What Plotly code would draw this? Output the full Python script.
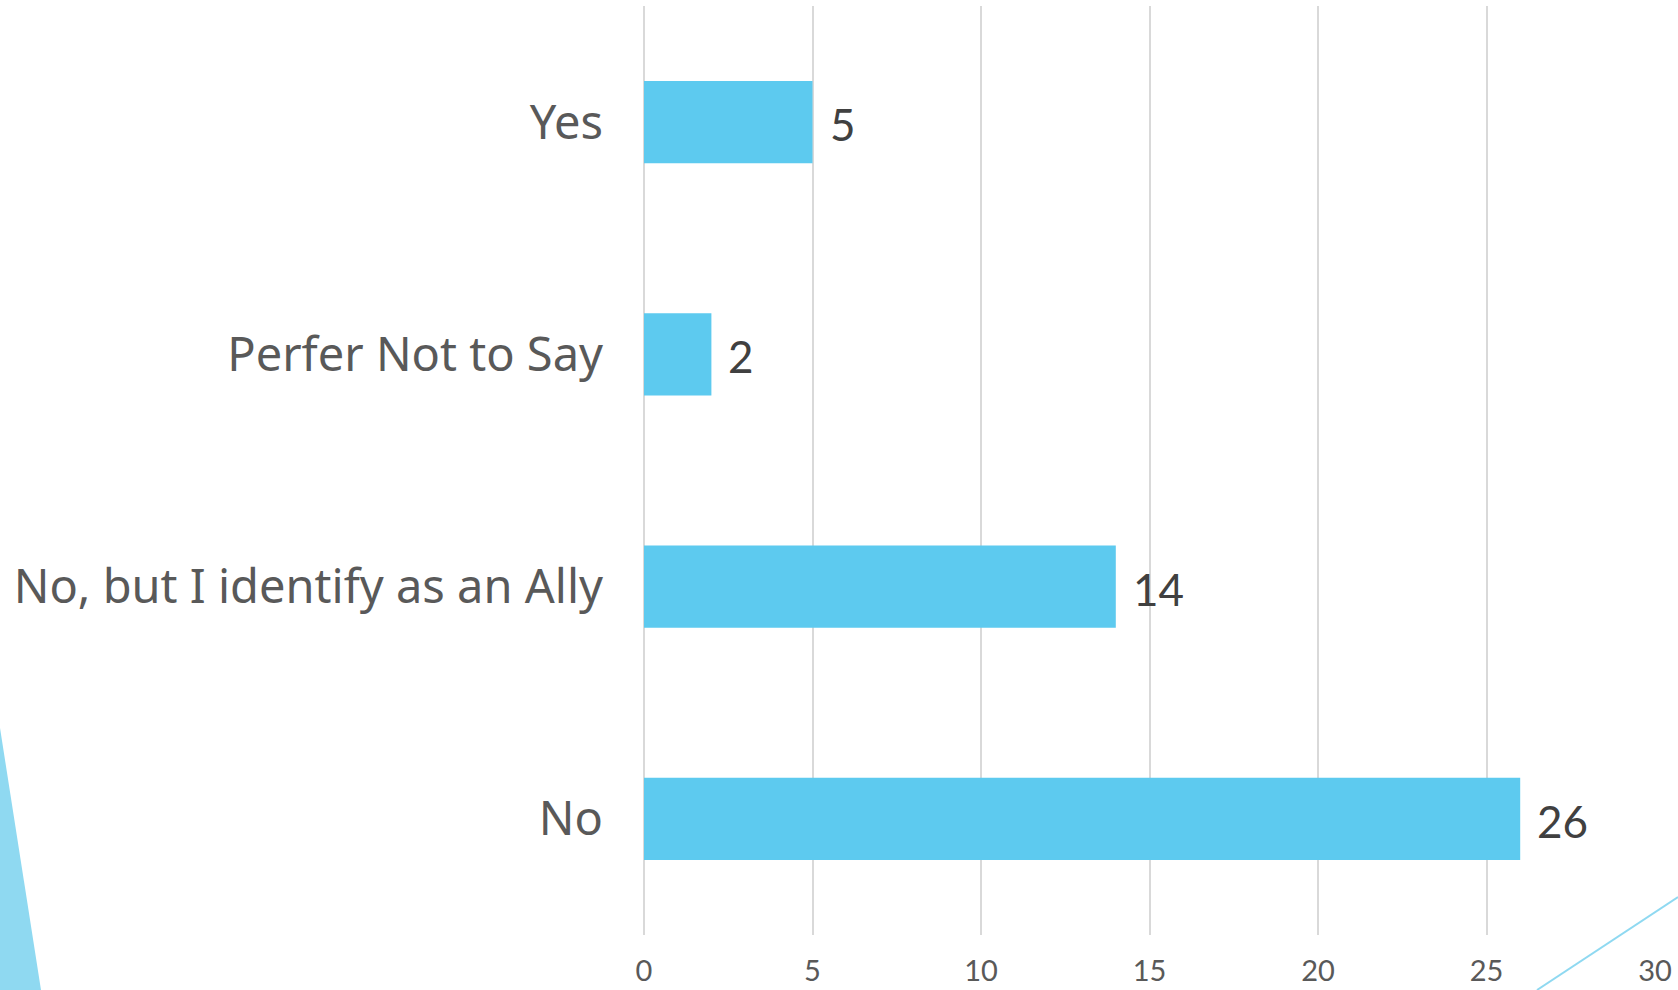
import plotly.graph_objects as go

# Survey responses, listed bottom-to-top as they appear on the axis
categories = ["No", "No, but I identify as an Ally", "Perfer Not to Say", "Yes"]
counts = [26, 14, 2, 5]
x_ticks = [0, 5, 10, 15, 20, 25, 30]

BAR = "#5DCAEF"
ACCENT = "#8FD9F1"
GRID = "#D9D9D9"

W, H = 1678, 990
L, R, T, B = 644, 23, 6, 55
pw, ph = W - L - R, H - T - B


def px(x):
    return (x - L) / pw


def py(y):
    return (H - B - y) / ph


fig = go.Figure(
    go.Bar(
        x=counts,
        y=categories,
        orientation="h",
        marker=dict(color=BAR, line=dict(width=0)),
        width=0.355,
        hoverinfo="skip",
    )
)

# value labels to the right of each bar
for c, v in zip(categories, counts):
    fig.add_annotation(
        x=v, y=c, text=str(v), showarrow=False,
        xanchor="left", yanchor="middle", xshift=15, yshift=-2,
        font=dict(family="Lato, sans-serif", size=44, color="#404040"),
    )

# decorative accents in the lower corners
fig.add_shape(
    type="path", xref="paper", yref="paper",
    path=f"M {px(0)} {py(728)} L {px(41)} {py(990)} L {px(0)} {py(990)} Z",
    fillcolor=ACCENT, line=dict(width=0), layer="below",
)
fig.add_shape(
    type="line", xref="paper", yref="paper",
    x0=px(1537), y0=py(990), x1=px(1678), y1=py(897),
    line=dict(color=ACCENT, width=2),
)

fig.update_layout(
    width=W, height=H,
    margin=dict(l=L, r=R, t=T, b=B, autoexpand=False),
    paper_bgcolor="white", plot_bgcolor="white",
    showlegend=False,
    xaxis=dict(
        range=[0, 30], tickvals=x_ticks, ticktext=[str(t) for t in x_ticks],
        showgrid=True, gridcolor=GRID, gridwidth=2,
        zeroline=True, zerolinecolor=GRID, zerolinewidth=2,
        showline=False, ticks="", ticklabelstandoff=16,
        tickfont=dict(family="Lato, sans-serif", size=29, color="#595959"),
        automargin=False, fixedrange=True,
    ),
    yaxis=dict(
        categoryorder="array", categoryarray=categories,
        showgrid=False, zeroline=False, showline=False, ticks="",
        ticklabelstandoff=40,
        tickfont=dict(family="Noto Sans, sans-serif", size=47, color="#595959"),
        range=[-0.5, 3.5], automargin=False, fixedrange=True,
    ),
)

fig.write_html("out.html")
